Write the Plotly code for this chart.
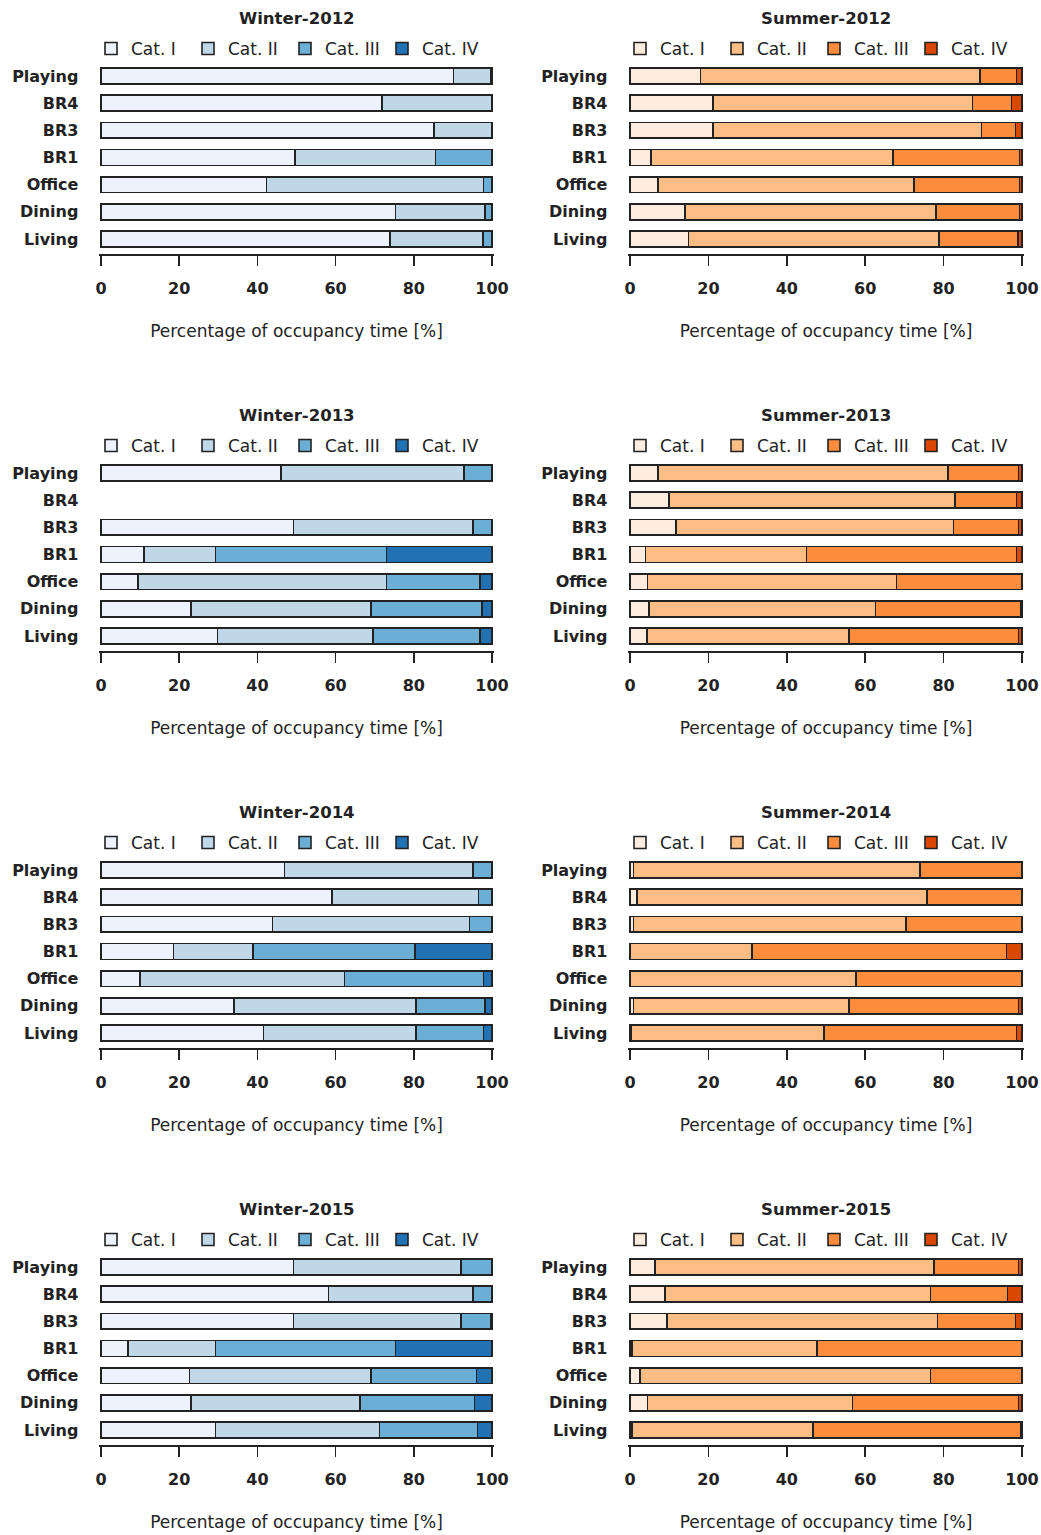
import plotly.graph_objects as go

# ---------------- data ----------------
rooms = ["Playing", "BR4", "BR3", "BR1", "Office", "Dining", "Living"]
categories = ["Cat. I", "Cat. II", "Cat. III", "Cat. IV"]
panel_titles = ["Winter-2012", "Summer-2012", "Winter-2013", "Summer-2013",
                "Winter-2014", "Summer-2014", "Winter-2015", "Summer-2015"]
x_ticks = [0, 20, 40, 60, 80, 100]
x_title = "Percentage of occupancy time [%]"

winter_colors = ["#EEF2FD", "#C0D7E8", "#6BAED6", "#2171B5"]
summer_colors = ["#FEEDDE", "#FDBE85", "#FD8D3C", "#D94701"]

# values per room, in the order of `rooms`
w2012_cat1 = [90.2, 71.8, 85.2, 49.6, 42.3, 75.3, 73.9]
w2012_cat2 = [9.4, 28.2, 14.8, 36.0, 55.5, 22.9, 23.8]
w2012_cat3 = [0, 0, 0, 14.4, 2.2, 1.8, 2.3]
w2012_cat4 = [0.4, 0, 0, 0, 0, 0, 0]

s2012_cat1 = [18.0, 21.2, 21.2, 5.4, 7.1, 14.0, 14.9]
s2012_cat2 = [71.3, 66.2, 68.5, 61.7, 65.4, 64.0, 63.9]
s2012_cat3 = [9.3, 9.9, 8.6, 32.3, 26.9, 21.4, 20.2]
s2012_cat4 = [1.4, 2.7, 1.7, 0.6, 0.6, 0.6, 1.0]

w2013_cat1 = [46.0, None, 49.2, 11.0, 9.5, 23.0, 29.8]
w2013_cat2 = [46.8, None, 46.0, 18.3, 63.5, 46.0, 39.7]
w2013_cat3 = [7.2, None, 4.8, 43.7, 23.9, 28.4, 27.4]
w2013_cat4 = [0, None, 0, 27.0, 3.1, 2.6, 3.1]

s2013_cat1 = [7.1, 9.9, 11.7, 4.0, 4.5, 4.9, 4.4]
s2013_cat2 = [74.0, 73.0, 70.8, 41.0, 63.5, 57.7, 51.5]
s2013_cat3 = [18.0, 15.7, 16.6, 53.6, 32.0, 37.0, 43.2]
s2013_cat4 = [0.9, 1.4, 0.9, 1.4, 0, 0.4, 0.9]

w2014_cat1 = [46.9, 59.1, 43.9, 18.5, 10.0, 34.0, 41.6]
w2014_cat2 = [48.3, 37.4, 50.3, 20.3, 52.3, 46.6, 39.0]
w2014_cat3 = [4.8, 3.5, 5.8, 41.5, 35.5, 17.6, 17.2]
w2014_cat4 = [0, 0, 0, 19.7, 2.2, 1.8, 2.2]

s2014_cat1 = [0.9, 1.8, 0.9, 0, 0, 0.9, 0.4]
s2014_cat2 = [73.1, 73.9, 69.5, 31.1, 57.6, 55.0, 49.1]
s2014_cat3 = [26.0, 24.3, 29.6, 64.9, 42.4, 43.2, 49.1]
s2014_cat4 = [0, 0, 0, 4.0, 0, 0.9, 1.4]

w2015_cat1 = [49.2, 58.2, 49.2, 6.9, 22.6, 23.0, 29.3]
w2015_cat2 = [42.9, 37.0, 42.9, 22.4, 46.4, 43.2, 41.9]
w2015_cat3 = [7.9, 4.8, 7.6, 46.0, 27.0, 29.3, 25.1]
w2015_cat4 = [0, 0, 0.3, 24.7, 4.0, 4.5, 3.7]

s2015_cat1 = [6.4, 8.9, 9.4, 0.5, 2.6, 4.5, 0.5]
s2015_cat2 = [71.1, 67.8, 69.0, 47.2, 74.1, 52.3, 46.2]
s2015_cat3 = [21.6, 19.6, 19.9, 52.3, 23.3, 42.3, 52.9]
s2015_cat4 = [0.9, 3.7, 1.7, 0, 0, 0.9, 0.4]

panel_values = [
    [w2012_cat1, w2012_cat2, w2012_cat3, w2012_cat4],
    [s2012_cat1, s2012_cat2, s2012_cat3, s2012_cat4],
    [w2013_cat1, w2013_cat2, w2013_cat3, w2013_cat4],
    [s2013_cat1, s2013_cat2, s2013_cat3, s2013_cat4],
    [w2014_cat1, w2014_cat2, w2014_cat3, w2014_cat4],
    [s2014_cat1, s2014_cat2, s2014_cat3, s2014_cat4],
    [w2015_cat1, w2015_cat2, w2015_cat3, w2015_cat4],
    [s2015_cat1, s2015_cat2, s2015_cat3, s2015_cat4],
]

# ---------------- layout geometry (pixels) ----------------
W, H = 1041, 1535
FONT = "DejaVu Sans"
INK = "#222222"
ROW_STEP = 397
PLOT_TOP, PLOT_BOTTOM = 61, 254
COL_X = [(101, 492), (630, 1022)]   # pixel positions of x = 0 and x = 100
PAD = 0.4                           # x-range padding so bar outlines are not clipped


def px_x(p):
    return p / W


def px_y(p):
    return 1 - p / H


fig = go.Figure()
layout = dict(
    template="none",
    width=W, height=H,
    margin=dict(l=0, r=0, t=0, b=0, pad=0, autoexpand=False),
    paper_bgcolor="white", plot_bgcolor="white",
    barmode="stack", bargap=0.42,
    font=dict(family=FONT, color=INK),
    annotations=[],
)

for i, (title, values) in enumerate(zip(panel_titles, panel_values)):
    row, col = divmod(i, 2)
    off = row * ROW_STEP
    x0, x1 = COL_X[col]
    scale = (x1 - x0) / 100.0
    colors = winter_colors if col == 0 else summer_colors
    sfx = "" if i == 0 else str(i + 1)
    leg = "legend" + sfx

    for cat, vals, colr in zip(categories, values, colors):
        fig.add_trace(go.Bar(
            x=vals, y=rooms, orientation="h", name=cat,
            marker=dict(color=colr, line=dict(color=INK, width=1.6)),
            xaxis="x" + sfx, yaxis="y" + sfx, legend=leg,
            showlegend=True,
        ))

    layout["xaxis" + sfx] = dict(
        domain=[px_x(x0 - PAD * scale), px_x(x1 + PAD * scale)],
        anchor="y" + sfx, automargin=False,
        range=[-PAD, 100 + PAD], tickvals=x_ticks, ticktext=[str(t) for t in x_ticks],
        showgrid=False, zeroline=False, showline=True, linecolor=INK, linewidth=1.5,
        ticks="outside", ticklen=10, tickwidth=1.5, tickcolor=INK,
        tickfont=dict(family=FONT, size=16, color=INK, weight="bold"),
        ticklabelstandoff=9,
        title=dict(text=x_title, font=dict(family=FONT, size=17, color=INK), standoff=28),
        fixedrange=True,
    )
    layout["yaxis" + sfx] = dict(
        domain=[px_y(PLOT_BOTTOM + off), px_y(PLOT_TOP + off)], anchor="x" + sfx,
        automargin=False,
        categoryorder="array", categoryarray=rooms, range=[6.55, -0.55],
        showgrid=False, zeroline=False, showline=False, ticks="",
        tickfont=dict(family=FONT, size=16, color=INK, weight="bold"),
        ticklabelstandoff=20, fixedrange=True,
    )
    layout[leg] = dict(
        orientation="h", x=px_x(x0 - 10), y=px_y(49 + off),
        xanchor="left", yanchor="middle",
        font=dict(family=FONT, size=17, color=INK),
        bgcolor="rgba(0,0,0,0)", borderwidth=0,
        traceorder="normal", entrywidth=52, entrywidthmode="pixels",
    )
    layout["annotations"].append(dict(
        text=title, x=(px_x(x0) + px_x(x1)) / 2, y=px_y(18 + off),
        xref="paper", yref="paper", xanchor="center", yanchor="middle",
        showarrow=False, font=dict(family=FONT, size=16.5, color=INK, weight="bold"),
    ))

fig.update_layout(**layout)
fig.write_html(
    "out.html",
    config={"displayModeBar": False, "staticPlot": True},
    post_script="document.body.style.margin='0';document.body.style.overflow='hidden';",
)
